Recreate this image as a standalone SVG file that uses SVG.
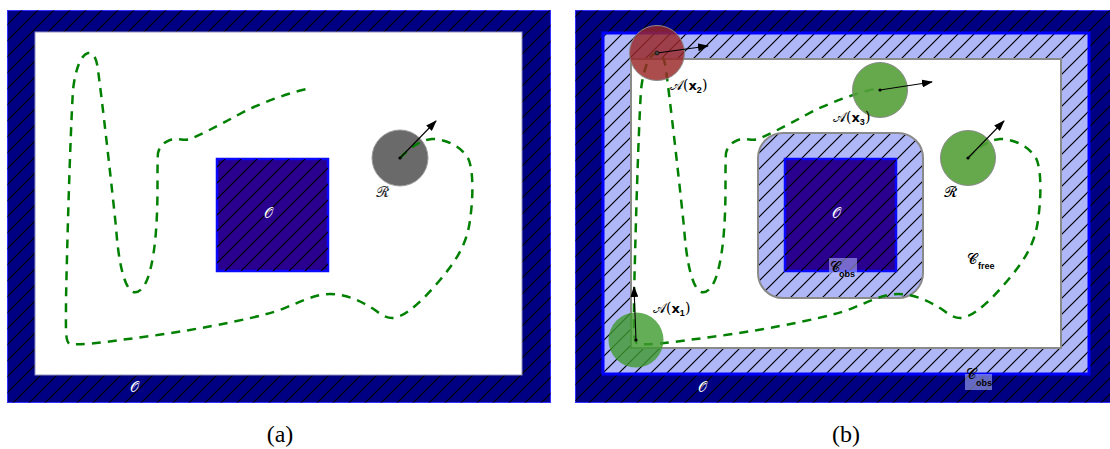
<svg xmlns="http://www.w3.org/2000/svg" xmlns:xlink="http://www.w3.org/1999/xlink" width="1110" height="449" viewBox="0 0 1110 449">
<style>
.navy{fill:#000082;stroke:#3030ff;stroke-width:1}
.hatch{fill:url(#h)}
.cobs{fill:#afb7f6}
.blueb{fill:none;stroke:#0000ff;stroke-width:3}
.obs{fill:#2a008e;stroke:#0a0aff;stroke-width:2.5}
.free{fill:#ffffff;stroke:#8a8a8a;stroke-width:2}
.traj{fill:none;stroke:#008000;stroke-width:2.5;stroke-dasharray:9 7}
.arrow{stroke:#000;stroke-width:1.1;fill:none;marker-end:url(#ah)}
.lbl{font-family:"DejaVu Serif","DejaVu Sans",serif;font-size:14px}
.cap{font-family:"Liberation Serif",serif;font-size:24px;fill:#000}
.sub{font-family:"Liberation Sans",sans-serif;font-size:9px;font-weight:bold}
.box{fill:#b8c0ff;fill-opacity:0.55}
</style>
<defs>
<pattern id="h" patternUnits="userSpaceOnUse" width="16" height="16">
<path d="M-1,1 L1,-1 M0,16 L16,0 M15,17 L17,15" stroke="#000" stroke-width="1.2"/>
</pattern>
<marker id="ah" markerUnits="userSpaceOnUse" markerWidth="11" markerHeight="8" refX="10" refY="4" orient="auto">
<path d="M0,0 L11,4 L0,8 z" fill="#000"/>
</marker>
<path id="trajp" d="M400,158 C410,148 420,140 432,139 C448,139 462,148 468,158 C474,170 473,200 470,220 C467,245 455,262 440,280 C425,298 410,312 400,316 C392,320 385,318 375,310 C360,300 345,294 330,294 C315,294 300,302 280,310 C250,320 180,333 120,340 C100,343 80,345 70,344 C65,342 66,330 66,300 C67,250 70,140 73,90 C75,72 80,55 88,53 C95,52 97,62 98,70 C102,100 110,170 116,227 C118,255 122,280 130,290 C135,295 142,292 147,280 C153,265 156,240 157,213 C158,190 157,165 158,153 C160,145 165,142 170,140 C178,138 185,141 190,139 C200,135 220,125 247,110 C265,102 290,92 312,88"/>
</defs>

<!-- Panel (a) -->
<g id="workspace-a">
<rect class="navy" x="7.5" y="10.5" width="543" height="392"/>
<rect class="hatch" x="7.5" y="10.5" width="543" height="392"/>
<rect x="35" y="32" width="487" height="343" fill="#ffffff" stroke="#9090c0" stroke-width="1"/>
</g>
<g id="obstacle-a">
<rect class="obs" x="217" y="159" width="111" height="112"/>
<rect class="hatch" x="217" y="159" width="111" height="112"/>
<text class="lbl" x="268" y="218" fill="#ffffff" text-anchor="middle">&#x1D4AA;</text>
</g>
<text class="lbl" x="134" y="392" fill="#ffffff" text-anchor="middle">&#x1D4AA;</text>
<g id="robot-a">
<circle cx="400" cy="158" r="28" fill="#6a6a6a" stroke="#9a9a9a" stroke-width="1"/>
<text class="lbl" x="382" y="197" fill="#333" font-size="17" text-anchor="middle">&#x1D4E1;</text>
</g>
<use xlink:href="#trajp" class="traj"/>

<!-- Panel (b) -->
<g id="workspace-b">
<rect class="navy" x="575.5" y="10.5" width="543" height="392"/>
<rect class="hatch" x="575.5" y="10.5" width="543" height="392"/>
<rect class="cobs" x="603" y="33" width="486" height="341"/>
<rect class="hatch" x="603" y="33" width="486" height="341"/>
<rect class="blueb" x="603" y="33" width="486" height="341"/>
<rect class="free" x="631" y="59" width="430" height="289"/>
</g>
<g id="cobs-inner">
<rect x="758" y="133" width="165" height="165" rx="25" class="cobs"/>
<rect x="758" y="133" width="165" height="165" rx="25" class="hatch" stroke="#8a8a8a" stroke-width="2"/>
</g>
<g id="obstacle-b">
<rect class="obs" x="785" y="159" width="111" height="112"/>
<rect class="hatch" x="785" y="159" width="111" height="112"/>
<text class="lbl" x="836" y="218" fill="#ffffff" text-anchor="middle">&#x1D4AA;</text>
</g>
<text class="lbl" x="702" y="392" fill="#ffffff" text-anchor="middle">&#x1D4AA;</text>
<g id="label-cobs-inner">
<rect class="box" x="829" y="258" width="28" height="19"/>
<text class="lbl" x="830" y="272" font-size="16" fill="#000">&#x1D4D2;</text>
<text class="sub" x="839" y="277" fill="#000">obs</text>
</g>
<g id="label-cobs-outer">
<rect class="box" x="965" y="374" width="27" height="16"/>
<text class="lbl" x="966" y="379" font-size="16" fill="#000">&#x1D4D2;</text>
<text class="sub" x="976" y="386" fill="#000">obs</text>
</g>
<g id="label-cfree">
<text class="lbl" x="967" y="264" font-size="16" fill="#000">&#x1D4D2;</text>
<text class="sub" x="978" y="269" fill="#000">free</text>
</g>
<use xlink:href="#trajp" class="traj" transform="translate(568,0)"/>
<g id="robot-x2">
<circle cx="657" cy="53" r="27.5" fill="#9a2626" fill-opacity="0.82" stroke="#8a8a8a" stroke-width="1"/>
<text class="lbl" x="670" y="90" fill="#000">&#x1D49C;(<tspan font-family="DejaVu Sans" font-weight="bold" font-size="13">x</tspan><tspan class="sub" dy="3">2</tspan><tspan dy="-3">)</tspan></text>
</g>
<g id="robot-x3">
<circle cx="880" cy="90" r="27.5" fill="#55a03a" fill-opacity="0.9" stroke="#8a8a8a" stroke-width="1"/>
<text class="lbl" x="833" y="122" fill="#000">&#x1D49C;(<tspan font-family="DejaVu Sans" font-weight="bold" font-size="13">x</tspan><tspan class="sub" dy="3">3</tspan><tspan dy="-3">)</tspan></text>
</g>
<g id="robot-R">
<circle cx="968" cy="158" r="27.5" fill="#55a03a" fill-opacity="0.9" stroke="#8a8a8a" stroke-width="1"/>
<text class="lbl" x="950" y="197" fill="#000" font-size="17" text-anchor="middle">&#x1D4E1;</text>
</g>
<g id="robot-x1">
<circle cx="636" cy="340" r="27.5" fill="#3e9a2e" fill-opacity="0.8" stroke="none"/>
<text class="lbl" x="653" y="313" fill="#000">&#x1D49C;(<tspan font-family="DejaVu Sans" font-weight="bold" font-size="13">x</tspan><tspan class="sub" dy="3">1</tspan><tspan dy="-3">)</tspan></text>
</g>

<g id="connectors">
<line class="arrow" x1="400" y1="158" x2="436" y2="121"/>
<line class="arrow" x1="657" y1="53" x2="708" y2="46"/>
<line class="arrow" x1="880" y1="90" x2="932" y2="82"/>
<line class="arrow" x1="968" y1="158" x2="1004" y2="121"/>
<line class="arrow" x1="636" y1="340" x2="634" y2="287"/>
<circle cx="400" cy="158" r="1.6" fill="#000"/>
<circle cx="657" cy="53" r="2" fill="#444" stroke="#000" stroke-width="0.6"/>
<circle cx="880" cy="90" r="1.6" fill="#000"/>
<circle cx="968" cy="158" r="1.6" fill="#000"/>
<circle cx="636" cy="340" r="1.6" fill="#000"/>
</g>

<text class="cap" x="280" y="442" text-anchor="middle">(a)</text>
<text class="cap" x="846" y="442" text-anchor="middle">(b)</text>
</svg>
